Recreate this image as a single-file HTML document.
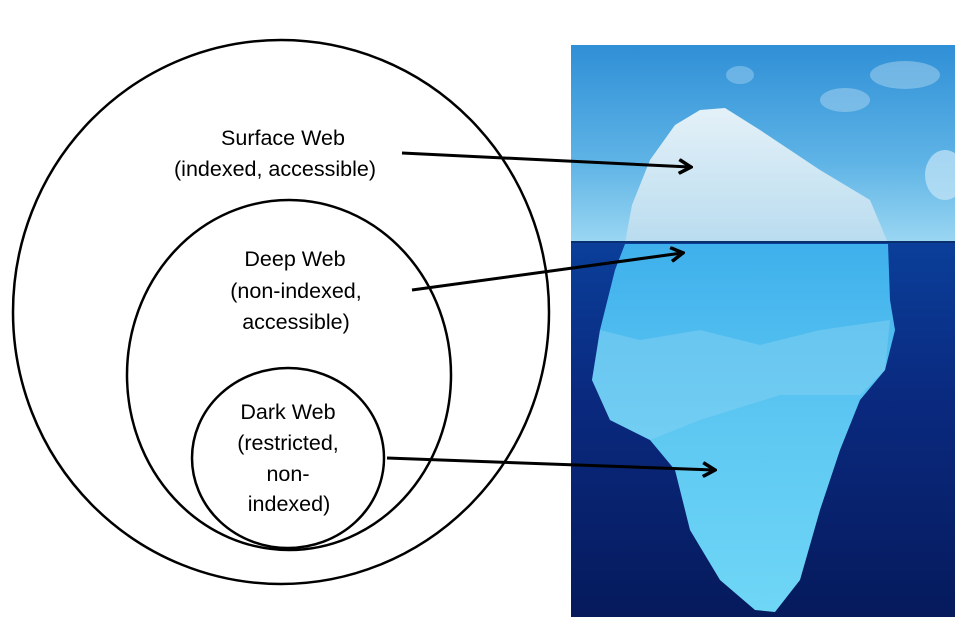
<!DOCTYPE html>
<html><head><meta charset="utf-8"><style>
html,body{margin:0;padding:0;background:#fff;width:963px;height:631px;overflow:hidden}
svg{display:block}
text{font-family:"Liberation Sans",sans-serif;font-size:21.5px;fill:#000}
</style></head><body>
<svg width="963" height="631" viewBox="0 0 963 631">
<defs>
<linearGradient id="sky" x1="0" y1="0" x2="0" y2="1">
<stop offset="0" stop-color="#2f8fd6"/><stop offset="0.6" stop-color="#5fb4e6"/><stop offset="1" stop-color="#9ad6f2"/>
</linearGradient>
<linearGradient id="sea" x1="0" y1="0" x2="0" y2="1">
<stop offset="0" stop-color="#0a3f9a"/><stop offset="0.4" stop-color="#0a2a80"/><stop offset="1" stop-color="#061a5c"/>
</linearGradient>
<linearGradient id="ice" x1="0" y1="0" x2="0" y2="1">
<stop offset="0" stop-color="#3fb0ec"/><stop offset="0.5" stop-color="#5ec8f2"/><stop offset="1" stop-color="#6fd6f6"/>
</linearGradient>
<linearGradient id="top" x1="0" y1="0" x2="0" y2="1">
<stop offset="0" stop-color="#e4f1f8"/><stop offset="1" stop-color="#b9dcef"/>
</linearGradient>
<clipPath id="pic"><rect x="571" y="45" width="384" height="572"/></clipPath>
<marker id="ah" markerWidth="16" markerHeight="16" refX="13" refY="8" orient="auto" markerUnits="userSpaceOnUse">
<path d="M2,1 L14,8 L2,15" fill="none" stroke="#000" stroke-width="3.5"/>
</marker>
</defs>
<g clip-path="url(#pic)">
<rect x="571" y="45" width="384" height="197" fill="url(#sky)"/>
<ellipse cx="740" cy="75" rx="14" ry="9" fill="#8cc6ec" opacity="0.6"/>
<ellipse cx="845" cy="100" rx="25" ry="12" fill="#9bcdee" opacity="0.6"/>
<ellipse cx="905" cy="75" rx="35" ry="14" fill="#a9d6f0" opacity="0.5"/>
<ellipse cx="945" cy="175" rx="20" ry="25" fill="#c6e6f6" opacity="0.7"/>
<rect x="571" y="242" width="384" height="375" fill="url(#sea)"/>
<path d="M625,243 L632,205 L650,160 L675,125 L700,110 L725,108 L760,130 L820,170 L870,200 L888,243 Z" fill="url(#top)"/>
<path d="M625,244 L888,244 L890,300 L895,330 L885,370 L860,400 L840,450 L820,510 L800,580 L775,612 L755,610 L720,580 L690,530 L675,470 L650,440 L610,420 L592,380 L600,330 L615,270 Z" fill="url(#ice)"/>
<path d="M600,330 L640,340 L700,330 L760,345 L820,330 L890,320 L885,370 L860,395 L780,395 L700,420 L650,440 L610,420 L592,380 Z" fill="#8ad3f2" opacity="0.45"/>
<line x1="571" y1="242" x2="955" y2="242" stroke="#0b2f6e" stroke-width="2"/>
</g>
<ellipse cx="281" cy="312" rx="268" ry="272" fill="none" stroke="#000" stroke-width="2.5"/>
<ellipse cx="289" cy="375" rx="162" ry="175" fill="none" stroke="#000" stroke-width="2.5"/>
<ellipse cx="288" cy="458" rx="96" ry="90" fill="none" stroke="#000" stroke-width="2.5"/>
<g text-anchor="middle">
<text x="283" y="145">Surface Web</text>
<text x="275" y="176">(indexed, accessible)</text>
<text x="295" y="266">Deep Web</text>
<text x="296" y="298">(non-indexed,</text>
<text x="296" y="329">accessible)</text>
<text x="288" y="419">Dark Web</text>
<text x="288" y="450">(restricted,</text>
<text x="288" y="481">non-</text>
<text x="289" y="511">indexed)</text>
</g>
<g stroke="#000" stroke-width="3" fill="none" marker-end="url(#ah)">
<line x1="402" y1="153" x2="690" y2="167"/>
<line x1="412" y1="290" x2="682" y2="253"/>
<line x1="387" y1="458" x2="714" y2="470"/>
</g>
</svg>
</body></html>
